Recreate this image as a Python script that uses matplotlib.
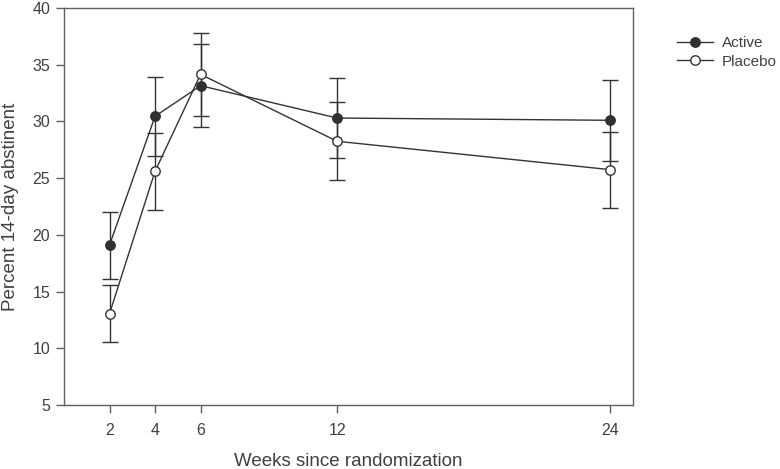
import matplotlib
matplotlib.use("Agg")
import matplotlib.pyplot as plt

plt.rcParams['font.family'] = ['Liberation Sans', 'DejaVu Sans']

weeks = [2, 4, 6, 12, 24]
active = [19.1, 30.45, 33.15, 30.3, 30.1]
active_err = [2.95, 3.5, 3.67, 3.56, 3.55]
placebo = [13.05, 25.6, 34.15, 28.25, 25.75]
placebo_err = [2.5, 3.4, 3.65, 3.45, 3.35]
xticks = [2, 4, 6, 12, 24]
yticks = [5, 10, 15, 20, 25, 30, 35, 40]

line_c = '#333333'
text_c = '#404040'
spine_c = '#606060'

fig = plt.figure(figsize=(7.8, 4.69), dpi=100)
ax = fig.add_axes([64/780, 1-405/469, (633-64)/780, (405-8)/469])

ax.errorbar(weeks, active, yerr=active_err, fmt='none', ecolor=line_c,
            capsize=5.5, capthick=1.0, elinewidth=1.0, zorder=2)
ax.errorbar(weeks, placebo, yerr=placebo_err, fmt='none', ecolor=line_c,
            capsize=5.5, capthick=1.0, elinewidth=1.0, zorder=2)
h1, = ax.plot(weeks, active, color=line_c, lw=1.0, marker='o', ms=6.8,
              mfc='#303030', mec='#303030', label='Active', zorder=3)
h2, = ax.plot(weeks, placebo, color=line_c, lw=1.0, marker='o', ms=6.8,
              mfc='white', mec=line_c, mew=1.0, label='Placebo', zorder=4)

ax.set_xlim(0, 25)
ax.set_ylim(5, 40)
ax.set_xticks(xticks)
ax.set_yticks(yticks)
ax.tick_params(direction='out', length=6, width=1, color=spine_c,
               labelcolor=text_c, labelsize=11.5)
ax.tick_params(axis='x', pad=7)
ax.tick_params(axis='y', pad=4)
for s in ax.spines.values():
    s.set_color(spine_c)
    s.set_linewidth(1.0)

fig.text(348.5/780, 3/469, 'Weeks since randomization', fontsize=13.5,
         color=text_c, ha='center', va='baseline')
fig.text(10.5/780, 1-206.5/469, 'Percent 14-day abstinent', fontsize=13.5,
         color=text_c, ha='center', va='center', rotation=90)

leg = fig.legend(handles=[h1, h2], loc='center left',
                 bbox_to_anchor=(677/780, 1-52.3/469), frameon=False,
                 fontsize=11, handlelength=2.36, labelspacing=0.3,
                 handletextpad=0.6, borderpad=0, borderaxespad=0,
                 labelcolor=text_c)

fig.savefig('out.png', dpi=100)
